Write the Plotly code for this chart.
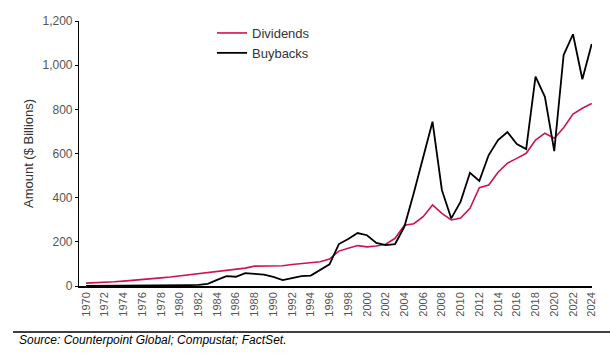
import plotly.graph_objects as go

years = list(range(1970, 2025))

dividends = [13, 14, 16, 19, 22, 25, 29, 33, 37, 41,
             46, 50, 54, 58, 63, 68, 74, 81, 90, 91,
             91, 92, 97, 101, 106, 110, 122, 158, 171, 183,
             177, 181, 189, 216, 275, 282, 314, 367, 329, 299,
             308, 352, 445, 457, 515, 556, 578, 601, 661, 692,
             669, 717, 779, 805, 827]

buybacks = [1, 1, 1, 1, 1, 1, 2, 2, 2, 3,
            3, 4, 5, 10, 28, 45, 42, 58, 55, 52,
            41, 27, 36, 45, 47, 72, 98, 190, 213, 240,
            230, 195, 185, 190, 269, 421, 580, 744, 435, 306,
            382, 513, 476, 593, 661, 697, 643, 620, 948, 857,
            611, 1046, 1140, 936, 1096]

x_ticks = list(range(1970, 2025, 2))
y_ticks = [0, 200, 400, 600, 800, 1000, 1200]

FONT = "Liberation Sans, Arial, sans-serif"
W, H = 610, 354
L, R, T, B = 79, 18, 21, 68
PW, PH = W - L - R, H - T - B


def px(xp):
    return (xp - L) / PW


def py(yp):
    return (H - B - yp) / PH


fig = go.Figure()
fig.add_trace(go.Scatter(x=years, y=dividends, name="Dividends", mode="lines",
                         line=dict(color="#CC1452", width=1.6)))
fig.add_trace(go.Scatter(x=years, y=buybacks, name="Buybacks", mode="lines",
                         line=dict(color="#000000", width=1.8)))

fig.update_layout(
    width=W, height=H,
    margin=dict(l=L, r=R, t=T, b=B),
    paper_bgcolor="white", plot_bgcolor="white",
    font=dict(family=FONT, color="#333333", size=12),
    showlegend=True,
    legend=dict(x=px(212), y=py(18), xanchor="left", yanchor="top",
                bgcolor="rgba(0,0,0,0)", font=dict(size=13, color="#333333"),
                tracegroupgap=0, itemwidth=30),
    xaxis=dict(range=[1969.25, 2024.03], tickvals=x_ticks,
               ticktext=[str(v) for v in x_ticks], tickangle=-90,
               showgrid=False, zeroline=False, showline=True,
               linecolor="#000000", linewidth=1.6, ticks="",
               tickfont=dict(size=11, color="#555555")),
    yaxis=dict(range=[0, 1200], tickvals=y_ticks, tickformat=",",
               showgrid=False, zeroline=False, showline=True,
               linecolor="#000000", linewidth=1.2, ticks="outside",
               ticklen=3, tickcolor="#000000",
               tickfont=dict(size=12, color="#555555"),
               title=dict(text="Amount ($ Billions)", font=dict(size=13, color="#333333"),
                          standoff=5)),
)

fig.add_shape(type="line", xref="paper", yref="paper",
              x0=px(13), x1=px(610), y0=py(332), y1=py(332),
              line=dict(color="#000000", width=1.5))
fig.add_annotation(text="<i>Source: Counterpoint Global; Compustat; FactSet.</i>",
                   xref="paper", yref="paper", x=px(17), y=py(340),
                   xanchor="left", yanchor="middle", showarrow=False,
                   font=dict(size=12, color="#000000", family=FONT))

fig.write_html("out.html")
